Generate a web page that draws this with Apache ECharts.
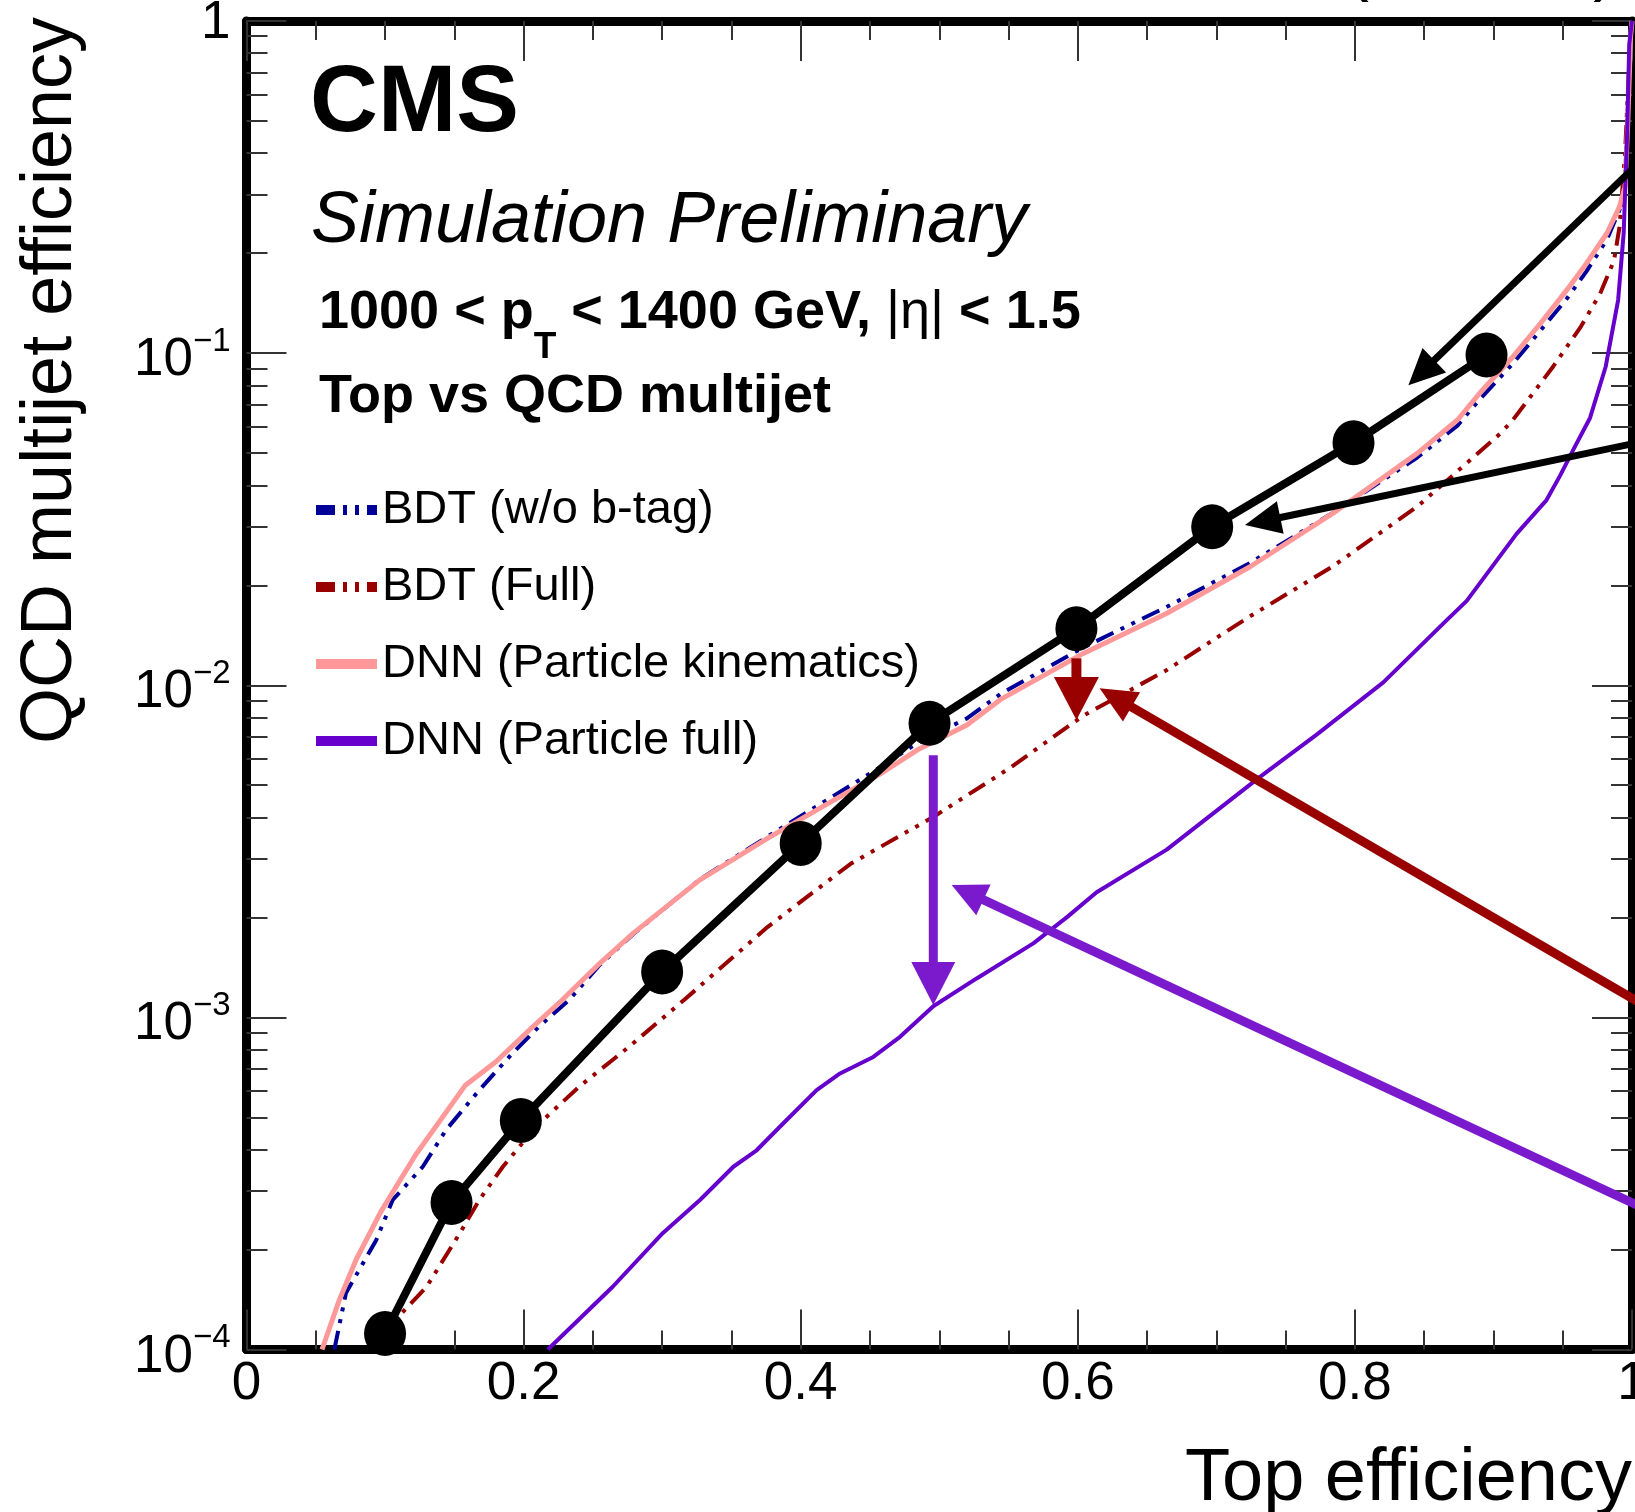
<!DOCTYPE html>
<html>
<head>
<meta charset="utf-8">
<script src="https://cdn.jsdelivr.net/npm/echarts@6/dist/echarts.min.js"></script>
<style>
  html, body { margin: 0; padding: 0; background: #fff; }
  #chart { width: 1635px; height: 1512px; }
</style>
</head>
<body>
<div id="chart"></div>
<script>
// top tagging ROC, 1000 < pT < 1400 GeV, |eta| < 1.5
const seriesNames = ['BDT (w/o b-tag)', 'BDT (Full)', 'DNN (Particle kinematics)', 'DNN (Particle full)'];

const bdtNoBX = [0.0634, 0.0718, 0.0935, 0.1055, 0.1272, 0.144, 0.168, 0.192, 0.211, 0.233, 0.255, 0.279, 0.327, 0.376, 0.424, 0.460, 0.484, 0.520, 0.544, 0.604, 0.664, 0.724, 0.784, 0.845, 0.874, 0.890, 0.914, 0.934, 0.953, 0.967, 0.982, 0.991, 0.995, 0.997, 0.999, 1.0];
const bdtNoBY = [1.0e-4, 1.48e-4, 2.13e-4, 2.82e-4, 3.55e-4, 4.58e-4, 6.04e-4, 7.8e-4, 9.37e-4, 1.13e-3, 1.44e-3, 1.78e-3, 2.6e-3, 3.5e-3, 4.65e-3, 5.75e-3, 6.7e-3, 7.95e-3, 9.4e-3, 1.3e-2, 1.72e-2, 2.33e-2, 3.3e-2, 4.85e-2, 6.05e-2, 7.25e-2, 9.3e-2, 0.117, 0.146, 0.176, 0.22, 0.27, 0.33, 0.55, 0.92, 1.0];

const bdtFullX = [0.106, 0.110, 0.130, 0.154, 0.168, 0.185, 0.209, 0.240, 0.276, 0.316, 0.376, 0.436, 0.496, 0.550, 0.604, 0.664, 0.724, 0.784, 0.845, 0.905, 0.914, 0.943, 0.963, 0.977, 0.987, 0.991, 0.995, 0.998, 1.0];
const bdtFullY = [1.0e-4, 1.26e-4, 1.545e-4, 2.24e-4, 2.82e-4, 3.55e-4, 4.69e-4, 6.18e-4, 8.15e-4, 1.13e-3, 1.87e-3, 2.9e-3, 4.02e-3, 5.6e-3, 8.1e-3, 1.11e-2, 1.61e-2, 2.28e-2, 3.45e-2, 5.73e-2, 6.29e-2, 9.1e-2, 0.12, 0.151, 0.19, 0.24, 0.4, 0.75, 1.0];

const dnnKinX = [0.0545, 0.067, 0.079, 0.097, 0.122, 0.158, 0.180, 0.207, 0.228, 0.255, 0.279, 0.327, 0.376, 0.424, 0.460, 0.484, 0.520, 0.544, 0.604, 0.664, 0.724, 0.784, 0.845, 0.874, 0.890, 0.914, 0.934, 0.953, 0.967, 0.982, 0.991, 0.995, 0.997, 0.999, 1.0];
const dnnKinY = [1.0e-4, 1.41e-4, 1.86e-4, 2.6e-4, 3.85e-4, 6.25e-4, 7.35e-4, 9.4e-4, 1.13e-3, 1.455e-3, 1.79e-3, 2.59e-3, 3.46e-3, 4.51e-3, 5.49e-3, 6.38e-3, 7.59e-3, 9.05e-3, 1.247e-2, 1.645e-2, 2.27e-2, 3.29e-2, 4.99e-2, 6.29e-2, 7.57e-2, 9.75e-2, 0.123, 0.155, 0.186, 0.23, 0.276, 0.317, 0.5, 0.9, 1.0];

const dnnFullX = [0.2175, 0.2643, 0.3004, 0.3273, 0.3514, 0.3682, 0.3875, 0.4115, 0.4284, 0.4524, 0.4717, 0.4957, 0.527, 0.5679, 0.592, 0.6136, 0.6642, 0.7315, 0.7724, 0.8205, 0.8663, 0.8807, 0.9168, 0.9383, 0.948, 0.9588, 0.9697, 0.981, 0.990, 0.994, 0.9965, 0.998, 1.0];
const dnnFullY = [1.0e-4, 1.545e-4, 2.24e-4, 2.82e-4, 3.55e-4, 3.98e-4, 4.8e-4, 6.04e-4, 6.78e-4, 7.6e-4, 8.74e-4, 1.08e-3, 1.31e-3, 1.67e-3, 2.0e-3, 2.38e-3, 3.2e-3, 5.3e-3, 7.1e-3, 1.02e-2, 1.57e-2, 1.795e-2, 2.86e-2, 3.61e-2, 4.27e-2, 5.23e-2, 6.38e-2, 9.1e-2, 0.1445, 0.23, 0.459, 0.85, 1.0];

// black working points
const pointX = [0.1, 0.148, 0.198, 0.3, 0.4, 0.493, 0.599, 0.697, 0.799, 0.895];
const pointY = [1.117e-4, 2.77e-4, 4.89e-4, 1.37e-3, 3.34e-3, 7.68e-3, 1.48e-2, 3.0e-2, 5.37e-2, 9.87e-2];

// annotation arrows, data units (tail -> tip)
const arrowFrom = [[1.0202, 0.4305], [1.0202, 0.0555], [1.0202, 1.02e-3], [0.599, 1.205e-2], [1.0202, 2.527e-4], [0.4957, 6.16e-3]];
const arrowTo = [[0.8386, 0.0801], [0.7207, 0.0304], [0.6157, 9.79e-3], [0.599, 7.86e-3], [0.509, 2.503e-3], [0.4957, 1.089e-3]];

const yDecades = [1e-4, 1e-3, 1e-2, 1e-1, 1];

const font = 'Liberation Sans';
const colors = ['#000099', '#990000', '#ff9999', '#6600cc'];
const dashDot = [19, 8, 4, 8, 4, 8];
const arrowStyles = [
  { color: '#000', width: 7, head: 36, headWidth: 34 },
  { color: '#000', width: 7, head: 36, headWidth: 33 },
  { color: '#990000', width: 9, head: 37, headWidth: 34 },
  { color: '#990000', width: 10, head: 43, headWidth: 45 },
  { color: '#7a1acc', width: 9, head: 35, headWidth: 34 },
  { color: '#7a1acc', width: 9, head: 43, headWidth: 44 },
];

const yMinor = [];
yDecades.slice(0, -1).forEach((d) => {
  for (let k = 2; k <= 9; k++) yMinor.push(k * d);
});

const zip = (xs, ys) => xs.map((x, i) => [x, ys[i]]);

const chart = echarts.init(document.getElementById('chart'));

const tickLine = { color: '#333', width: 2 };
const frameLine = { color: '#000', width: 9 };

function xAxisCfg(position, showLabel) {
  return {
    type: 'value', position, min: 0, max: 1, interval: 0.2,
    axisLine: { show: true, onZero: false, lineStyle: frameLine },
    axisTick: { show: true, inside: true, length: 40, lineStyle: tickLine },
    minorTick: { show: true, splitNumber: 4, length: 19, lineStyle: tickLine },
    splitLine: { show: false },
    minorSplitLine: { show: false },
    axisLabel: {
      show: showLabel, fontSize: 53, fontFamily: font, color: '#000', margin: 8,
      formatter: (v) => String(+v.toFixed(1)),
    },
  };
}

function yAxisCfg(position, major) {
  return {
    type: 'log', logBase: 10, position, min: 1e-4, max: 1,
    splitLine: { show: false },
    axisLine: { show: major, onZero: false, lineStyle: frameLine },
    axisTick: { show: true, inside: true, length: major ? 40 : 21, lineStyle: tickLine,
      customValues: major ? yDecades : yMinor },
    axisLabel: { show: false },
  };
}

const yMain = yAxisCfg('left', true);
yMain.axisLabel = {
  show: true, customValues: yDecades, margin: 16, color: '#000',
  formatter: (v) => {
    const e = Math.round(Math.log10(v));
    return e === 0 ? '{one|1}' : '{b|10}{s|\u2212' + (-e) + '}';
  },
  rich: {
    b: { fontSize: 53, fontFamily: font, color: '#000', padding: [15, 0, 0, 0] },
    s: { fontSize: 33, fontFamily: font, color: '#000', padding: [0, 0, 23, 0] },
    one: { fontSize: 53, fontFamily: font, color: '#000', padding: [5, 0, 0, 0] },
  },
};

const curveData = [zip(bdtNoBX, bdtNoBY), zip(bdtFullX, bdtFullY), zip(dnnKinX, dnnKinY), zip(dnnFullX, dnnFullY)];
const curveStyle = [
  { color: colors[0], width: 4, type: dashDot },
  { color: colors[1], width: 4, type: dashDot },
  { color: colors[2], width: 5, type: 'solid' },
  { color: colors[3], width: 4, type: 'solid' },
];

const series = seriesNames.map((name, i) => ({
  name, type: 'line', data: curveData[i],
  xAxisIndex: 0, yAxisIndex: 0,
  symbol: 'none', smooth: false, z: 2 + i * 0.1,
  itemStyle: { color: colors[i] },
  lineStyle: Object.assign({ cap: 'butt' }, curveStyle[i]),
}));

series.push({
  name: 'points', type: 'line', data: zip(pointX, pointY),
  xAxisIndex: 0, yAxisIndex: 0, z: 5,
  symbol: 'circle', symbolSize: [42, 45],
  itemStyle: { color: '#000' },
  lineStyle: { color: '#000', width: 8 },
});

series.push({
  name: 'arrows', type: 'custom', z: 6,
  xAxisIndex: 0, yAxisIndex: 0,
  data: arrowFrom.map((f, i) => [f[0], f[1], arrowTo[i][0], arrowTo[i][1]]),
  encode: { x: [0, 2], y: [1, 3] },
  renderItem: (params, api) => {
    const st = arrowStyles[params.dataIndex];
    const a = api.coord([api.value(0), api.value(1)]);
    const b = api.coord([api.value(2), api.value(3)]);
    const dx = b[0] - a[0], dy = b[1] - a[1];
    const len = Math.hypot(dx, dy);
    const ux = dx / len, uy = dy / len;
    const bx = b[0] - ux * st.head, by = b[1] - uy * st.head;
    const hw = st.headWidth / 2;
    return {
      type: 'group',
      children: [
        { type: 'line', shape: { x1: a[0], y1: a[1], x2: b[0] - ux * st.head * 0.7, y2: b[1] - uy * st.head * 0.7 },
          style: { stroke: st.color, lineWidth: st.width } },
        { type: 'polygon', shape: { points: [[b[0], b[1]], [bx - uy * hw, by + ux * hw], [bx + uy * hw, by - ux * hw]] },
          style: { fill: st.color } },
      ],
    };
  },
});

const option = {
  animation: false,
  backgroundColor: '#fff',
  grid: { left: 246.5, top: 21, right: 3, bottom: 162.5, containLabel: false, outerBoundsMode: 'none' },
  xAxis: [xAxisCfg('bottom', true), xAxisCfg('top', false)],
  yAxis: [yMain, yAxisCfg('left', false), yAxisCfg('right', true), yAxisCfg('right', false)],
  legend: {
    data: seriesNames,
    orient: 'vertical', left: 311, top: 485, padding: 0,
    itemWidth: 61, itemHeight: 10, itemGap: 27,
    selectedMode: false,
    lineStyle: { width: 10 },
    itemStyle: { opacity: 0 },
    textStyle: { fontSize: 47, fontFamily: font, color: '#000', lineHeight: 50 },
  },
  graphic: [
    { type: 'text', x: 310, y: 105, z: 10,
      style: { text: 'CMS', fontSize: 94, fontWeight: 'bold', fontFamily: font, fill: '#000', verticalAlign: 'middle' } },
    { type: 'text', x: 311, y: 222, z: 10,
      style: { text: 'Simulation Preliminary', fontSize: 72, fontStyle: 'italic', fontFamily: font, fill: '#000', verticalAlign: 'middle' } },
    { type: 'text', x: 319, y: 313, z: 10,
      style: {
        text: '{a|1000 < p}{sub|T}{a| < 1400 GeV, }{eta||\u03b7|}{a| < 1.5}',
        verticalAlign: 'middle',
        rich: {
          a: { fontSize: 54, fontWeight: 'bold', fontFamily: font, fill: '#000' },
          sub: { fontSize: 37, fontWeight: 'bold', fontFamily: font, fill: '#000', padding: [70, 0, 0, 0] },
          eta: { fontSize: 54, fontFamily: font, fill: '#000' },
        },
      } },
    { type: 'text', x: 319, y: 397, z: 10,
      style: { text: 'Top vs QCD multijet', fontSize: 54, fontWeight: 'bold', fontFamily: font, fill: '#000', verticalAlign: 'middle' } },
    { type: 'text', x: 1632, y: 1480, z: 10,
      style: { text: 'Top efficiency', fontSize: 74, fontFamily: font, fill: '#000', align: 'right', verticalAlign: 'middle' } },
    { type: 'text', x: 51, y: 17, rotation: Math.PI / 2, z: 10,
      style: { text: 'QCD multijet efficiency', fontSize: 72, fontFamily: font, fill: '#000', align: 'right', verticalAlign: 'middle' } },
    { type: 'text', x: 1345, y: -33, z: 10,
      style: { text: '(13 TeV)', fontSize: 72, fontFamily: font, fill: '#000', verticalAlign: 'middle' } },
  ],
  series,
};

chart.setOption(option);
</script>
</body>
</html>
